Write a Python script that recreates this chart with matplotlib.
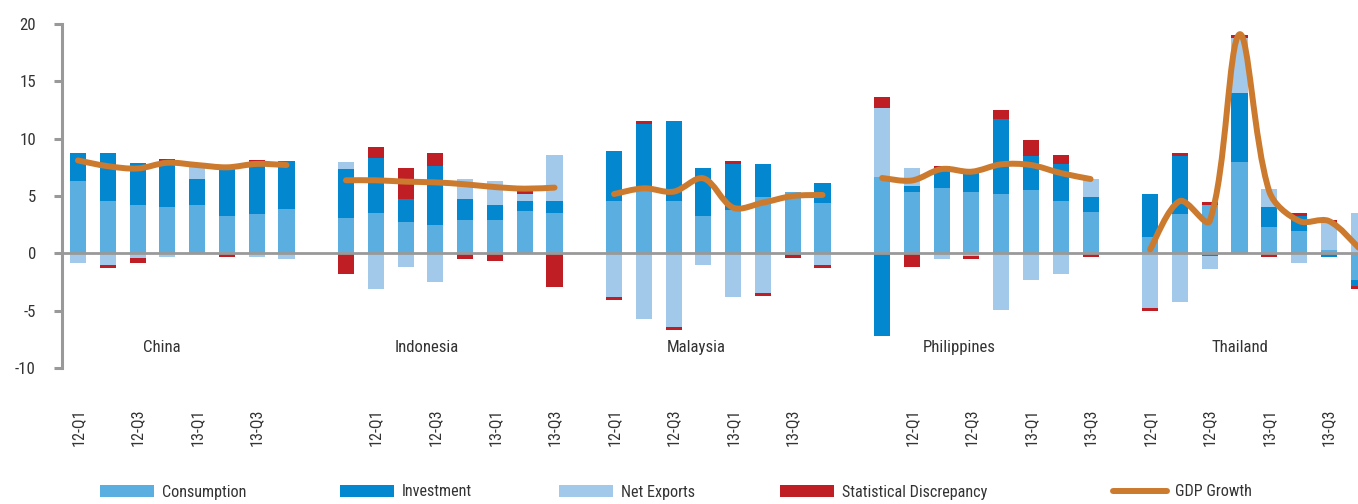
import numpy as np
import matplotlib
matplotlib.use("Agg")
import matplotlib.pyplot as plt
from matplotlib import font_manager as fm
from matplotlib.path import Path
from matplotlib.patches import PathPatch, Patch
from matplotlib.lines import Line2D

# The original uses a condensed face; take the narrowest one that is installed
font_entries = fm.fontManager.ttflist
font_names = {f.name for f in font_entries}
narrow = ("condensed", "semi-condensed", "extra-condensed")
if "Liberation Sans Narrow" in font_names:
    family, stretch, fscale = "Liberation Sans Narrow", "normal", 1.0
elif any(f.name == "Noto Sans" and f.stretch in narrow for f in font_entries):
    family, stretch, fscale = "Noto Sans", "condensed", 0.95
elif "Roboto Condensed" in font_names:
    family, stretch, fscale = "Roboto Condensed", "normal", 0.93
elif any(f.name == "DejaVu Sans" and f.stretch in narrow for f in font_entries):
    family, stretch, fscale = "DejaVu Sans", "condensed", 0.81
else:
    family, stretch, fscale = "Liberation Sans", "normal", 0.82

plt.rcParams['font.family'] = [family, 'DejaVu Sans']
plt.rcParams['font.stretch'] = stretch
plt.rcParams['axes.unicode_minus'] = False

# Countries and the quarters shown for each (8 per country)
countries = ["China", "Indonesia", "Malaysia", "Philippines", "Thailand"]
q_from_12q1 = ["12-Q1", "12-Q2", "12-Q3", "12-Q4", "13-Q1", "13-Q2", "13-Q3", "13-Q4"]
q_from_11q4 = ["11-Q4", "12-Q1", "12-Q2", "12-Q3", "12-Q4", "13-Q1", "13-Q2", "13-Q3"]
country_quarters = [q_from_12q1, q_from_11q4, q_from_12q1, q_from_11q4, q_from_12q1]

# Contributions to growth (percentage points), China / Indonesia / Malaysia / Philippines / Thailand
consumption = [6.28, 4.53, 4.19, 4.01, 4.19, 3.23, 3.43, 3.84,
               3.08, 3.52, 2.73, 2.47, 2.91, 2.91, 3.69, 3.52,
               4.56, 5.44, 4.56, 3.26, 3.78, 4.91, 5.38, 4.39,
               6.66, 5.35, 5.70, 5.35, 5.17, 5.52, 4.56, 3.60,
               1.42, 3.43, 4.22, 7.97, 2.30, 1.95, 0.26, -2.33]
investment = [2.44, 4.19, 3.72, 4.07, 2.27, 4.20, 4.60, 4.18,
              4.27, 4.80, 2.00, 5.15, 1.83, 1.31, 0.87, 1.05,
              4.36, 5.84, 6.98, 4.19, 4.01, 2.88, -0.15, 1.74,
              -7.21, 0.52, 1.66, 2.00, 6.55, 2.97, 3.23, 1.31,
              3.75, 5.06, -0.20, 6.02, 1.74, 1.31, -0.29, -0.52]
net_exports = [-0.87, -1.02, -0.44, -0.29, 1.20, 0.0, -0.30, -0.47,
               0.61, -3.11, -1.19, -2.50, 1.74, 2.09, 0.61, 4.02,
               -3.81, -5.73, -6.42, -1.02, -3.81, -3.46, 0.0, -1.02,
               6.02, 1.57, -0.49, -0.23, -4.94, -2.33, -1.80, 1.57,
               -4.77, -4.24, -1.16, 4.80, 1.57, -0.84, 2.38, 3.52]
stat_disc = [0.0, -0.23, -0.41, 0.12, 0.0, -0.29, 0.08, 0.0,
             -1.80, 0.96, 2.70, 1.13, -0.47, -0.64, 0.27, -2.91,
             -0.26, 0.26, -0.26, 0.0, 0.26, -0.26, -0.26, -0.23,
             0.96, -1.19, 0.26, -0.26, 0.78, 1.40, 0.78, -0.29,
             -0.23, 0.26, 0.26, 0.26, -0.29, 0.26, 0.26, -0.23]
gdp_growth = [8.1, 7.6, 7.4, 7.9, 7.7, 7.5, 7.8, 7.7,
              6.37, 6.37, 6.25, 6.19, 6.02, 5.78, 5.64, 5.73,
              5.17, 5.67, 5.38, 6.54, 3.98, 4.42, 5.0, 5.09,
              6.57, 6.35, 7.35, 7.12, 7.76, 7.70, 7.0, 6.48,
              0.35, 4.56, 2.82, 19.1, 5.4, 2.82, 2.82, 0.5]

series_names = ["Consumption", "Investment", "Net Exports", "Statistical Discrepancy"]
series_colors = ["#5BAEE0", "#0388D0", "#A2C8EA", "#BE1E24"]
gdp_color = "#CC7A2E"
grey = "#999999"
text_color = "#333333"

# country name positions (category index) and height
country_label_x = [2.8, 11.7, 20.75, 29.6, 39.0]
country_label_y = -8.2

n_q = 8
gap = 1
x = np.array([c * (n_q + gap) + q for c in range(len(countries)) for q in range(n_q)])

cat_labels = []
for c, qs in enumerate(country_quarters):
    cat_labels += qs
    if c < len(countries) - 1:
        cat_labels += [""] * gap

# rough pixel size of one data unit, so the smoothing works in screen space
px_per_x, px_per_y = 29.78, 11.47


def smooth_path(xs, ys):
    # smoothed line through the points, like Excel's "smoothed line" option;
    # tangents are shortened next to short segments to avoid big overshoot
    pts = np.column_stack([xs, ys]).astype(float)
    scr = pts * [px_per_x, px_per_y]
    n = len(pts)

    def seg(i, j):
        return np.hypot(*(scr[j] - scr[i]))

    verts = [pts[0]]
    codes = [Path.MOVETO]
    for i in range(n - 1):
        d_mid = seg(i, i + 1)
        if i == 0:
            t1 = (pts[1] - pts[0]) / 6
        else:
            w = 2 * d_mid / (seg(i - 1, i) + d_mid)
            t1 = (pts[i + 1] - pts[i - 1]) / 6 * w
        if i + 2 >= n:
            t2 = (pts[i + 1] - pts[i]) / 6
        else:
            w = 2 * d_mid / (d_mid + seg(i + 1, i + 2))
            t2 = (pts[i + 2] - pts[i]) / 6 * w
        verts += [pts[i] + t1, pts[i + 1] - t2, pts[i + 1]]
        codes += [Path.CURVE4] * 3
    return Path(verts, codes)


fig = plt.figure(figsize=(13.58, 5.04), dpi=100)
ax = fig.add_axes([62 / 1358, 136 / 504, 1296 / 1358, 344 / 504])

pos_base = np.zeros(len(x))
neg_base = np.zeros(len(x))
for vals, color in zip([consumption, investment, net_exports, stat_disc], series_colors):
    v = np.array(vals)
    bottom = np.where(v >= 0, pos_base, neg_base)
    ax.bar(x, v, bottom=bottom, width=0.54, color=color, linewidth=0, zorder=2)
    pos_base += np.where(v > 0, v, 0)
    neg_base += np.where(v < 0, v, 0)

ax.axhline(0, color=grey, lw=2.0, zorder=3)

gdp = np.array(gdp_growth)
for c in range(len(countries)):
    sl = slice(c * n_q, (c + 1) * n_q)
    ax.add_patch(PathPatch(smooth_path(x[sl], gdp[sl]), fill=False, edgecolor=gdp_color,
                           lw=4.3, capstyle='round', joinstyle='round', zorder=4))

for name, cx in zip(countries, country_label_x):
    ax.text(cx, country_label_y, name, ha='center', va='center', fontsize=13 * fscale,
            color=text_color)

ax.set_xlim(-0.537, 42.98)
ax.set_ylim(-10, 20)
ax.set_yticks(range(-10, 21, 5))
tick_pos = [i for i in range(len(cat_labels)) if i % 2 == 0]
ax.set_xticks(tick_pos)
ax.set_xticklabels([cat_labels[i] for i in tick_pos], rotation=90)
ax.tick_params(axis='x', length=0, pad=29, labelsize=12.5 * fscale, labelcolor=text_color)
ax.tick_params(axis='y', direction='out', length=5.8, width=2.2, color=grey, pad=13,
               labelsize=13 * fscale, labelcolor=text_color)

for s in ['top', 'right', 'bottom']:
    ax.spines[s].set_visible(False)
ax.spines['left'].set_color(grey)
ax.spines['left'].set_linewidth(2.2)

# legend entries placed one by one like the original
handles = [Patch(facecolor=c, edgecolor='none', label=n) for n, c in zip(series_names, series_colors)]
handles.append(Line2D([], [], color=gdp_color, lw=4.3, solid_capstyle='round', label="GDP Growth"))
legend_x = [100, 340, 559, 780, 1113]
for h, lx in zip(handles, legend_x):
    fig.legend(handles=[h], loc='center left', bbox_to_anchor=(lx / 1358, 12 / 504),
               frameon=False, borderpad=0, borderaxespad=0, handlelength=3.1 / fscale,
               handleheight=0.7 / fscale, handletextpad=0.45 / fscale, fontsize=12.5 * fscale,
               labelcolor=text_color)

fig.savefig("out.png", dpi=100)
